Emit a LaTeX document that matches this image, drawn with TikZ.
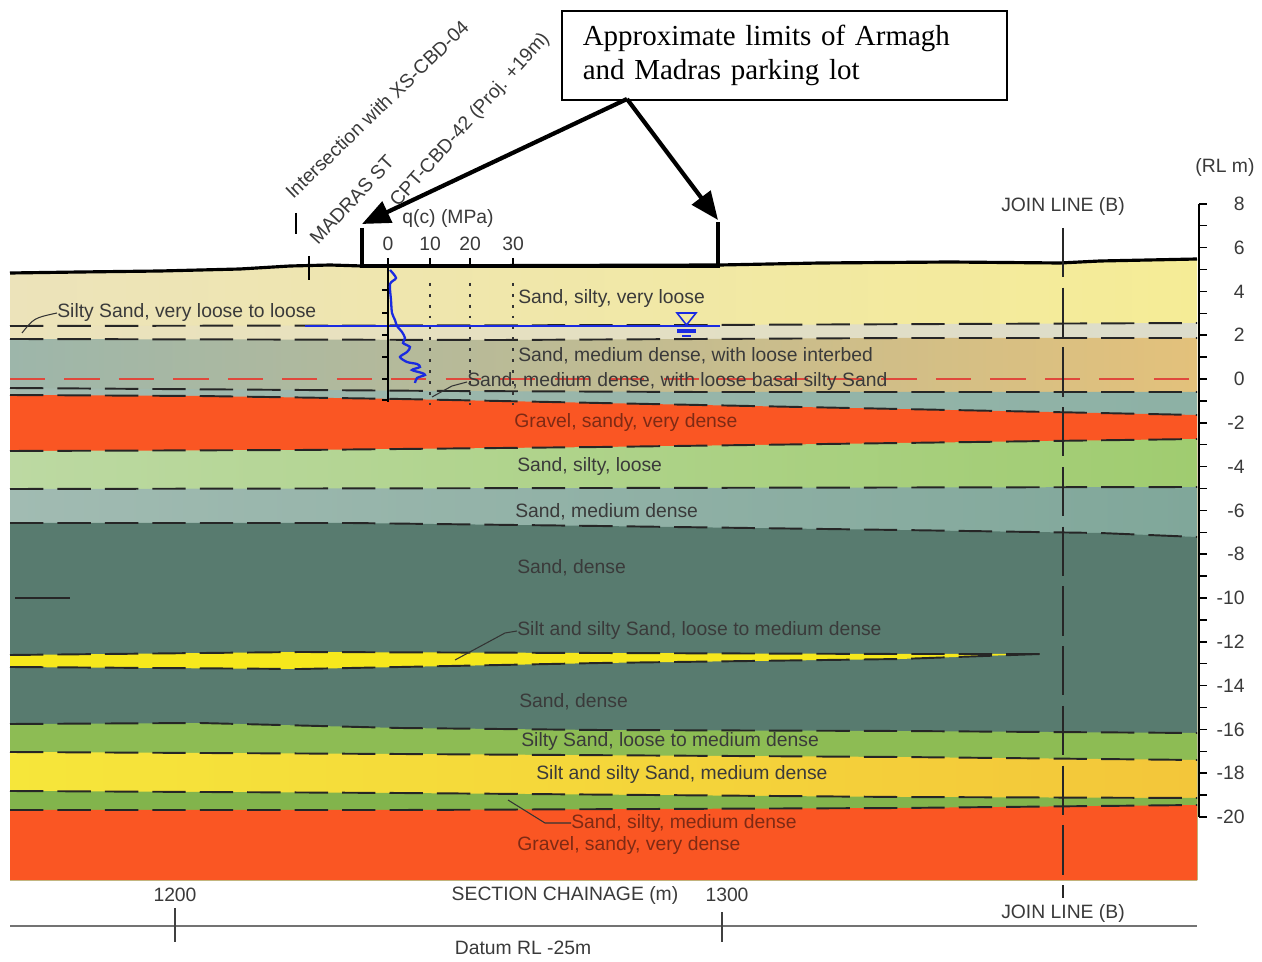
\documentclass[tikz,border=0pt]{standalone}
\usepackage{fontspec}
\setmainfont{Liberation Serif}
\newfontfamily\secfont{Liberation Sans}
\usetikzlibrary{arrows.meta}

\definecolor{creamL}{HTML}{ECE3BA}
\definecolor{creamM}{HTML}{F1EFD0}
\definecolor{creamR}{HTML}{F5EC96}
\definecolor{bandR}{HTML}{DCDCCB}
\definecolor{interL}{HTML}{9DB6AA}
\definecolor{interM}{HTML}{BBBE9C}
\definecolor{interR}{HTML}{E3C17B}
\definecolor{basalL}{HTML}{A3BAAF}
\definecolor{basalR}{HTML}{8DB1A5}
\definecolor{gravel}{HTML}{FA5623}
\definecolor{sgreenL}{HTML}{BCD9A2}
\definecolor{sgreenR}{HTML}{A0CC70}
\definecolor{mtealL}{HTML}{A1BBB2}
\definecolor{mtealR}{HTML}{80A79A}
\definecolor{dteal}{HTML}{587B6F}
\definecolor{lens}{HTML}{F6E81C}
\definecolor{lgreen}{HTML}{8DBC54}
\definecolor{siltL}{HTML}{F6E63A}
\definecolor{siltM}{HTML}{FBE41C}
\definecolor{siltR}{HTML}{F3C63A}
\definecolor{tgreen}{HTML}{82B44C}
\definecolor{wtable}{HTML}{1A2BE0}
\definecolor{rlzero}{HTML}{E0483C}
\definecolor{inktext}{HTML}{3A3A3A}
\definecolor{inkred}{HTML}{7E2A14}

\begin{document}
\begin{tikzpicture}[x=0.02cm, y=-0.02cm, font=\secfont\fontsize{11}{13}\selectfont,
  >={Triangle[length=16pt, width=13pt]},
  bd/.style={draw=black!85, line width=1.1pt, dash pattern=on 19pt off 8pt},
  lay/.style={anchor=base west, inner sep=0pt, text=inktext},
  redlay/.style={lay, text=inkred},
  num/.style={inner sep=0pt, text=inktext},
  tilt/.style={anchor=base west, inner sep=0pt, text=inktext, rotate=#1},
  leader/.style={draw=black!80, line width=0.6pt},
  dots/.style={draw=black!80, line width=1.6pt, dash pattern=on 1.6pt off 4.6pt},
  joinln/.style={draw=black!85, line width=0.9pt, dash pattern=on 28pt off 6pt}]
  \useasboundingbox (0,0) rectangle (1262,962);
  \fill[white] (0,0) rectangle (1262,962);

  % soil layers, top down, each filled to the base
  \path[left color=creamL, middle color=creamM, right color=creamR] (10,880) -- (10,273) -- (80,272) -- (160,271) -- (240,269) -- (290,266) -- (330,265) -- (362,266) -- (720,265) -- (820,263) -- (950,262) -- (1060,263) -- (1100,261) -- (1197,259) -- (1197,880) -- cycle;
  \path[left color=creamL, middle color=creamM, right color=bandR] (10,880) -- (10,326) -- (700,325) -- (1197,323) -- (1197,880) -- cycle;
  \path[left color=interL, middle color=interM, right color=interR] (10,880) -- (10,339) -- (500,340) -- (900,338) -- (1197,338) -- (1197,880) -- cycle;
  \path[left color=basalL, right color=basalR] (10,880) -- (10,388) -- (450,391) -- (700,392) -- (1197,392) -- (1197,880) -- cycle;
  \fill[gravel] (10,880) -- (10,395) -- (200,396) -- (400,399) -- (600,403) -- (800,407) -- (1000,411) -- (1197,415) -- (1197,880) -- cycle;
  \path[left color=sgreenL, right color=sgreenR] (10,880) -- (10,451) -- (300,450) -- (600,447) -- (900,443) -- (1197,439) -- (1197,880) -- cycle;
  \path[left color=mtealL, right color=mtealR] (10,880) -- (10,489) -- (600,488) -- (1197,487) -- (1197,880) -- cycle;
  \fill[dteal] (10,880) -- (10,523) -- (350,523) -- (600,526) -- (900,530) -- (1100,533) -- (1197,537) -- (1197,880) -- cycle;
  \fill[lens] (10,655) -- (300,652) -- (600,653) -- (900,654) -- (1040,654) -- (900,659) -- (600,663) -- (300,669) -- (10,667) -- cycle;
  \fill[lgreen] (10,880) -- (10,724) -- (200,723) -- (400,728) -- (600,730) -- (900,731) -- (1197,733) -- (1197,880) -- cycle;
  \path[left color=siltL, middle color=siltM, right color=siltR] (10,880) -- (10,752) -- (400,754) -- (900,757) -- (1197,760) -- (1197,880) -- cycle;
  \fill[tgreen] (10,880) -- (10,791) -- (400,793) -- (900,797) -- (1197,798) -- (1197,880) -- cycle;
  \fill[gravel] (10,880) -- (10,810) -- (400,810) -- (900,808) -- (1197,805) -- (1197,880) -- cycle;

  % layer boundaries
  \draw[bd] (10,326) -- (700,325) -- (1197,323);
  \draw[bd] (10,339) -- (500,340) -- (900,338) -- (1197,338);
  \draw[bd] (10,388) -- (450,391) -- (700,392) -- (1197,392);
  \draw[bd] (10,395) -- (200,396) -- (400,399) -- (600,403) -- (800,407) -- (1000,411) -- (1197,415);
  \draw[bd] (10,451) -- (300,450) -- (600,447) -- (900,443) -- (1197,439);
  \draw[bd] (10,489) -- (600,488) -- (1197,487);
  \draw[bd] (10,523) -- (350,523) -- (600,526) -- (900,530) -- (1100,533) -- (1197,537);
  \draw[bd] (10,655) -- (300,652) -- (600,653) -- (900,654) -- (1040,654);
  \draw[bd] (10,667) -- (300,669) -- (600,663) -- (900,659) -- (1040,654);
  \draw[bd] (10,724) -- (200,723) -- (400,728) -- (600,730) -- (900,731) -- (1197,733);
  \draw[bd] (10,752) -- (400,754) -- (900,757) -- (1197,760);
  \draw[bd] (10,791) -- (400,793) -- (900,797) -- (1197,798);
  \draw[bd] (10,810) -- (400,810) -- (900,808) -- (1197,805);
  \draw[black!85, line width=1.1pt] (15,598) -- (70,598);
  \draw[rlzero, line width=0.8pt, dash pattern=on 20pt off 11pt] (10,379) -- (1197,379);

  % ground surface
  \draw[line width=1.8pt] (10,273) -- (80,272) -- (160,271) -- (240,269) -- (290,266) -- (330,265) -- (362,266) -- (720,265) -- (820,263) -- (950,262) -- (1060,263) -- (1100,261) -- (1197,259);
  \draw[line width=0.8pt] (296,213) -- (296,234);
  \draw[line width=0.8pt] (309,256) -- (309,280);

  % water table
  \draw[wtable, line width=1.4pt] (305,326) -- (720,326);
  \draw[wtable, line width=0.9pt] (677,313) -- (696,313) -- (686.5,325) -- cycle;
  \draw[wtable, line width=2pt] (677,331) -- (696,331);
  \draw[wtable, line width=1.5pt] (682,336) -- (691,336);

  % cone resistance log
  \draw[line width=1.2pt] (388,265) -- (388,402);
  \foreach \t in {290,313,335,357,379,400} \draw[line width=1pt] (382,\t) -- (388,\t);
  \foreach \q/\x in {0/388,10/430,20/470,30/513} {
    \draw[line width=1pt] (\x,265) -- (\x,258);
    \node[num] (q\q) at (\x,244) {\q};
  }
  \foreach \x in {430,470,513} \draw[dots] (\x,283) -- (\x,405);
  \node[num] (qc) at (448,219) {q(c) (MPa)};
  \draw[wtable, line width=1.3pt] plot[smooth, tension=0.45] coordinates {(390,270) (396,278) (390,284) (391,300) (392,313) (395,320) (397,326) (402,332) (405,338) (403,343) (410,347) (407,352) (400,357) (407,362) (417,364) (420,367) (412,370) (422,373) (425,375) (417,378) (415,383)};

  % parking lot limits
  \draw[line width=2.6pt] (362,228) -- (362,266) -- (718,266) -- (718,222);
  \node[draw, line width=0.9pt, anchor=north west, text width=8.06cm, inner xsep=0.42cm, minimum height=1.78cm, align=left, font=\rmfamily\fontsize{16.5}{19.3}\selectfont] (lots) at (561,10) {Approximate limits of Armagh\\and Madras parking lot};
  \coordinate (tail) at (627,99);
  \coordinate (lotL) at (362,224);
  \coordinate (lotR) at (718,220);
  \draw[->, line width=2.4pt] (tail) -- (lotL);
  \draw[->, line width=2.4pt] (tail) -- (lotR);

  % sloped headings
  \node[tilt=44] (xs) at (293,200) {Intersection with XS-CBD-04};
  \node[tilt=47] (madras) at (318,246) {MADRAS ST};
  \node[tilt=48] (cpt) at (398,208) {CPT-CBD-42 (Proj. +19m)};

  % layer descriptions
  \node[lay] (siltyL) at (57,318) {Silty Sand, very loose to loose};
  \node[lay] (l1) at (518,304) {Sand, silty, very loose};
  \node[lay] (l2) at (518,362) {Sand, medium dense, with loose interbed};
  \node[lay] (basal) at (467,387) {Sand, medium dense, with loose basal silty Sand};
  \node[redlay] (l3) at (514,428) {Gravel, sandy, very dense};
  \node[lay] (l4) at (517,472) {Sand, silty, loose};
  \node[lay] (l5) at (515,518) {Sand, medium dense};
  \node[lay] (l6) at (517,574) {Sand, dense};
  \node[lay] (lensL) at (517,636) {Silt and silty Sand, loose to medium dense};
  \node[lay] (l7) at (519,708) {Sand, dense};
  \node[lay] (l8) at (521,747) {Silty Sand, loose to medium dense};
  \node[lay] (l9) at (536,780) {Silt and silty Sand, medium dense};
  \node[redlay] (thin) at (571,828) {Sand, silty, medium dense};
  \node[redlay] (l10) at (517,850) {Gravel, sandy, very dense};
  \draw[leader] (22,333) .. controls (34,318) .. (siltyL.west);
  \draw[leader] (432,397) -- (452,386) -- (basal.west);
  \draw[leader] (455,660) -- (505,633) -- (lensL.west);
  \draw[leader] (508,800) -- (545,823) -- (thin.west);

  % level scale
  \draw[line width=0.9pt] (1199,204) -- (1199,817);
  \foreach \r in {-20,...,8} \draw[line width=0.9pt] (1199,{379-21.9*\r}) -- ++(8,0);
  \foreach \r in {8,6,...,-20} \node[num, anchor=east] (rl\r) at (1245,{379-21.9*\r}) {\r};
  \node[num] (rlm) at (1225,168) {(RL m)};

  % join line and chainage
  \node[num] (joinT) at (1063,207) {JOIN LINE (B)};
  \node[num] (joinB) at (1063,913) {JOIN LINE (B)};
  \draw[joinln] (1063,228) -- (1063,898);
  \draw[black!55, line width=1.6pt] (10,926) -- (1197,926);
  \draw[black!75, line width=0.8pt] (175,908) -- (175,942);
  \draw[black!75, line width=0.8pt] (722,912) -- (722,942);
  \node[num] (c1200) at (175,895) {1200};
  \node[num] (chain) at (565,895) {SECTION CHAINAGE (m)};
  \node[num] (c1300) at (727,895) {1300};
  \node[num] (datum) at (523,948) {Datum RL -25m};
\end{tikzpicture}
\end{document}
